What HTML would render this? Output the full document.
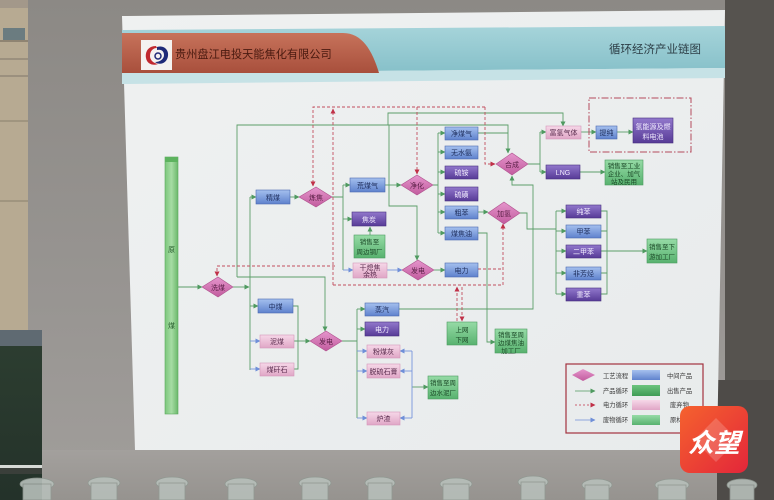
<!DOCTYPE html>
<html><head><meta charset="utf-8"><style>
html,body{margin:0;padding:0;width:774px;height:500px;overflow:hidden;background:#8b8985}
svg{display:block}
text{font-family:"Liberation Sans","Noto Sans CJK SC",sans-serif}
</style></head><body>
<svg width="774" height="500" viewBox="0 0 774 500" xmlns="http://www.w3.org/2000/svg">
<defs>
<linearGradient id="wall" x1="0" y1="0" x2="0" y2="1"><stop offset="0" stop-color="#8c8985"/><stop offset="0.6" stop-color="#989592"/><stop offset="1" stop-color="#a19e9b"/></linearGradient>
<linearGradient id="shelf" x1="0" y1="0" x2="0" y2="1"><stop offset="0" stop-color="#a3a09d"/><stop offset="1" stop-color="#96938f"/></linearGradient>
<linearGradient id="poster" x1="0" y1="0" x2="1" y2="1"><stop offset="0" stop-color="#eff1f1"/><stop offset="1" stop-color="#e8ebec"/></linearGradient>
<linearGradient id="red" x1="0" y1="0" x2="0" y2="1"><stop offset="0" stop-color="#c7735b"/><stop offset="1" stop-color="#a84f3c"/></linearGradient>
<linearGradient id="teal" x1="0" y1="0" x2="0" y2="1"><stop offset="0" stop-color="#a6d4da"/><stop offset="1" stop-color="#86c0c9"/></linearGradient>
<linearGradient id="gb" x1="0" y1="0" x2="0" y2="1"><stop offset="0" stop-color="#a5c0ee"/><stop offset="1" stop-color="#5f82cd"/></linearGradient>
<linearGradient id="gp" x1="0" y1="0" x2="0" y2="1"><stop offset="0" stop-color="#9278cc"/><stop offset="1" stop-color="#573b97"/></linearGradient>
<linearGradient id="gk" x1="0" y1="0" x2="0" y2="1"><stop offset="0" stop-color="#f6d8e8"/><stop offset="1" stop-color="#e0a6c6"/></linearGradient>
<linearGradient id="gg" x1="0" y1="0" x2="0" y2="1"><stop offset="0" stop-color="#96dba6"/><stop offset="1" stop-color="#58b26f"/></linearGradient>
<linearGradient id="gg2" x1="0" y1="0" x2="0" y2="1"><stop offset="0" stop-color="#6cc47e"/><stop offset="1" stop-color="#3f9c55"/></linearGradient>
<linearGradient id="gd" x1="0" y1="0" x2="0" y2="1"><stop offset="0" stop-color="#e595cc"/><stop offset="1" stop-color="#c25c9e"/></linearGradient>
<linearGradient id="bar" x1="0" y1="0" x2="1" y2="0"><stop offset="0" stop-color="#7cc77c"/><stop offset="0.5" stop-color="#a6dca4"/><stop offset="1" stop-color="#6bb86b"/></linearGradient>
<linearGradient id="wm" x1="0" y1="0" x2="1" y2="1"><stop offset="0" stop-color="#f5622e"/><stop offset="1" stop-color="#e3263a"/></linearGradient>
<linearGradient id="dg" x1="0" y1="0" x2="0" y2="1"><stop offset="0" stop-color="#2c3d30"/><stop offset="1" stop-color="#24322a"/></linearGradient>
<marker id="ag" markerWidth="5" markerHeight="5" refX="4.5" refY="2.5" orient="auto" markerUnits="userSpaceOnUse"><path d="M0,0 L5,2.5 L0,5 Z" fill="#4f9a60"/></marker>
<marker id="ar" markerWidth="5" markerHeight="5" refX="4.5" refY="2.5" orient="auto" markerUnits="userSpaceOnUse"><path d="M0,0 L5,2.5 L0,5 Z" fill="#c03048"/></marker>
<marker id="ab" markerWidth="5" markerHeight="5" refX="4.5" refY="2.5" orient="auto" markerUnits="userSpaceOnUse"><path d="M0,0 L5,2.5 L0,5 Z" fill="#6f8fd8"/></marker>
</defs>

<!-- background -->
<rect x="0" y="0" width="774" height="500" fill="url(#wall)"/>
<rect x="0" y="0" width="28" height="330" fill="#b7aa92"/>
<rect x="0" y="0" width="28" height="8" fill="#a3988a"/>
<rect x="3" y="28" width="22" height="12" fill="#6b7c80"/>
<rect x="0" y="40" width="28" height="2" fill="#8f8472"/>
<rect x="0" y="58" width="28" height="2" fill="#9b907e"/>
<rect x="0" y="75" width="28" height="2" fill="#9b907e"/>
<rect x="0" y="120" width="28" height="2" fill="#a0957f"/>
<rect x="0" y="200" width="28" height="2" fill="#a0957f"/>
<rect x="0" y="330" width="42" height="16" fill="#5f6a72"/>
<rect x="0" y="346" width="42" height="154" fill="url(#dg)"/>
<rect x="0" y="465" width="44" height="3" fill="#d6dad6"/>
<rect x="0" y="468" width="44" height="6" fill="#3a3f3a"/>
<rect x="725" y="0" width="49" height="500" fill="#56534f"/>
<rect x="42" y="450" width="683" height="50" fill="url(#shelf)"/>
<rect x="717" y="380" width="57" height="120" fill="#4e4b48"/>

<!-- bottles -->
<g fill="#b7bfba" stroke="#8f9891" stroke-width="0.8" opacity="0.9">
<ellipse cx="37" cy="484" rx="17" ry="6"/><rect x="23" y="484" width="28" height="16"/>
<ellipse cx="104" cy="483" rx="16" ry="6"/><rect x="91" y="483" width="26" height="17"/>
<ellipse cx="172" cy="483" rx="16" ry="6"/><rect x="159" y="483" width="26" height="17"/>
<ellipse cx="241" cy="484" rx="16" ry="6"/><rect x="228" y="484" width="26" height="16"/>
<ellipse cx="315" cy="483" rx="16" ry="6"/><rect x="302" y="483" width="26" height="17"/>
<ellipse cx="380" cy="483" rx="15" ry="6"/><rect x="368" y="483" width="24" height="17"/>
<ellipse cx="456" cy="484" rx="16" ry="6"/><rect x="443" y="484" width="26" height="16"/>
<ellipse cx="533" cy="482" rx="15" ry="6"/><rect x="521" y="482" width="24" height="18"/>
<ellipse cx="597" cy="485" rx="15" ry="6"/><rect x="585" y="485" width="24" height="15"/>
<ellipse cx="672" cy="485" rx="17" ry="6"/><rect x="658" y="485" width="28" height="15"/>
<ellipse cx="742" cy="485" rx="15" ry="6"/><rect x="730" y="485" width="24" height="15"/>
</g>

<!-- poster -->
<polygon points="122,16 725,10 717,450 135,450" fill="url(#poster)"/>
<!-- header -->
<polygon points="122,30 725,26 725,68 122,73" fill="url(#teal)"/>
<polygon points="122,73 725,68 725,78 122,84" fill="#c6e2e6"/>
<path d="M122,33 H343 C362,33 372,50 379,73 H122 Z" fill="url(#red)"/>
<rect x="141" y="40" width="31" height="30" fill="#f4f2f0"/>
<path d="M156,46 C148,46 145,52 146,58 C147,64 153,66 158,64 C153,63 150,60 150,56 C150,51 153,48 157,48 Z" fill="#c0282e"/>
<path d="M157,47 C164,45 169,50 168,56 C167,63 160,66 155,62 C160,62 164,59 164,55 C164,51 161,49 157,50 Z" fill="#1e2a78"/>
<circle cx="158" cy="56" r="3" fill="none" stroke="#1e2a78" stroke-width="1.5"/>
<text x="175" y="58" font-size="11.2" fill="#4a1a10">贵州盘江电投天能焦化有限公司</text>
<text x="609" y="53" font-size="11.5" fill="#2d3f47">循环经济产业链图</text>

<!-- lines green -->
<g fill="none" stroke="#5c9e69" stroke-width="0.9">
<path d="M178,287 H202" marker-end="url(#ag)"/>
<path d="M233,287 H249" marker-end="url(#ag)"/>
<path d="M250,197 V370"/>
<path d="M250,197 H256" marker-end="url(#ag)"/>
<path d="M250,306 H258" marker-end="url(#ag)"/>
<path d="M290,197 H299" marker-end="url(#ag)"/>
<path d="M332,197 H343 M343,185 V270"/>
<path d="M343,185 H350" marker-end="url(#ag)"/>
<path d="M343,219 H352" marker-end="url(#ag)"/>
<path d="M385,185 H401" marker-end="url(#ag)"/>
<path d="M370,235 V227" marker-end="url(#ag)"/>
<path d="M434,270 H445" marker-end="url(#ag)"/>
<path d="M433,185 H438 M438,133 V233"/>
<path d="M438,133 H445" marker-end="url(#ag)"/>
<path d="M438,152 H445" marker-end="url(#ag)"/>
<path d="M438,172 H445" marker-end="url(#ag)"/>
<path d="M438,194 H445" marker-end="url(#ag)"/>
<path d="M438,212 H445" marker-end="url(#ag)"/>
<path d="M438,233 H445" marker-end="url(#ag)"/>
<path d="M478,212 H488" marker-end="url(#ag)"/>
<path d="M520,213 H527 V229 H556 M556,211 V294"/>
<path d="M556,211 H566" marker-end="url(#ag)"/>
<path d="M556,231 H566" marker-end="url(#ag)"/>
<path d="M556,251 H566" marker-end="url(#ag)"/>
<path d="M556,273 H566" marker-end="url(#ag)"/>
<path d="M556,294 H566" marker-end="url(#ag)"/>
<path d="M601,211 H607 V294 H601 M601,231 H607 M601,273 H607"/>
<path d="M601,251 H647" marker-end="url(#ag)"/>
<path d="M528,164 H540 M540,132 V172"/>
<path d="M540,132 H546" marker-end="url(#ag)"/>
<path d="M540,172 H546" marker-end="url(#ag)"/>
<path d="M581,132 H596" marker-end="url(#ag)"/>
<path d="M617,132 H633" marker-end="url(#ag)"/>
<path d="M580,172 H605" marker-end="url(#ag)"/>
<path d="M478,133 H508"/>
<path d="M237,277 V125 H508 V153" marker-end="url(#ag)"/>
<path d="M388,125 V113 H563 V126" marker-end="url(#ag)"/>
<path d="M389,125 V206 H417 V260" marker-end="url(#ag)"/>
<path d="M478,233 H487 V342 H495" marker-end="url(#ag)"/>
<path d="M399,309 H533 V185 H512 V176" marker-end="url(#ag)"/>
<path d="M237,277 H325 V331" marker-end="url(#ag)"/>
<path d="M342,341 H357 M357,309 V418"/>
<path d="M357,309 H365" marker-end="url(#ag)"/>
<path d="M357,329 H365" marker-end="url(#ag)"/>
<path d="M293,306 H298 V369 H294 M294,341 H298"/>
<path d="M298,341 H310" marker-end="url(#ag)"/>
<path d="M412,387 H428" marker-end="url(#ag)"/>
</g>
<!-- lines blue -->
<g fill="none" stroke="#7795dc" stroke-width="0.9">
<path d="M250,341 H260" marker-end="url(#ab)"/>
<path d="M250,369 H260" marker-end="url(#ab)"/>
<path d="M343,270 H353" marker-end="url(#ab)"/>
<path d="M387,270 H402" marker-end="url(#ab)"/>
<path d="M357,351 H367" marker-end="url(#ab)"/>
<path d="M357,371 H367" marker-end="url(#ab)"/>
<path d="M357,418 H367" marker-end="url(#ab)"/>
<path d="M412,351 V418"/>
<path d="M412,351 H400" marker-end="url(#ab)"/>
<path d="M412,371 H400" marker-end="url(#ab)"/>
<path d="M412,418 H400" marker-end="url(#ab)"/>
</g>
<!-- lines red dashed -->
<g fill="none" stroke="#c24e5e" stroke-width="0.9" stroke-dasharray="3,2">
<path d="M485,107 H313 V186" marker-end="url(#ar)"/>
<path d="M485,107 V164 H495" marker-end="url(#ar)"/>
<path d="M417,107 V174" marker-end="url(#ar)"/>
<path d="M333,285 V109" marker-end="url(#ar)"/>
<path d="M335,266 H217 V276" marker-end="url(#ar)"/>
<path d="M333,285 H503 V224" marker-end="url(#ar)"/>
<path d="M478,269 H503"/>
<path d="M457,321 V287" marker-end="url(#ar)"/>
<path d="M462,287 V321" marker-end="url(#ar)"/>
</g>
<!-- dash-dot box -->
<rect x="589" y="98" width="102" height="54" fill="none" stroke="#b44a5c" stroke-width="1" stroke-dasharray="7,2,1.5,2"/>

<!-- raw coal bar -->
<rect x="165" y="157" width="13" height="257" fill="url(#bar)" stroke="#5aa85c" stroke-width="0.6"/>
<rect x="165" y="157" width="13" height="5" fill="#5db35f"/>
<text x="171.5" y="252" font-size="7" fill="#245a2a" text-anchor="middle">原</text>
<text x="171.5" y="328" font-size="7" fill="#245a2a" text-anchor="middle">煤</text>

<!-- boxes -->
<g stroke-width="0.6" font-size="7" text-anchor="middle">
<g fill="url(#gb)" stroke="#4b69b0">
<rect x="256" y="190" width="34" height="14"/>
<rect x="350" y="178" width="35" height="14"/>
<rect x="445" y="263" width="33" height="14"/>
<rect x="445" y="127" width="33" height="13"/>
<rect x="445" y="146" width="33" height="13"/>
<rect x="445" y="206" width="33" height="13"/>
<rect x="445" y="227" width="33" height="13"/>
<rect x="596" y="126" width="21" height="13"/>
<rect x="566" y="225" width="35" height="13"/>
<rect x="566" y="267" width="35" height="13"/>
<rect x="258" y="299" width="35" height="14"/>
<rect x="365" y="303" width="34" height="13"/>
</g>
<g fill="url(#gp)" stroke="#47307f">
<rect x="352" y="212" width="34" height="14"/>
<rect x="445" y="166" width="33" height="13"/>
<rect x="445" y="187" width="33" height="14"/>
<rect x="546" y="165" width="34" height="14"/>
<rect x="633" y="118" width="40" height="25"/>
<rect x="566" y="205" width="35" height="13"/>
<rect x="566" y="245" width="35" height="13"/>
<rect x="566" y="288" width="35" height="13"/>
<rect x="365" y="322" width="34" height="14"/>
</g>
<g fill="url(#gk)" stroke="#d497b9">
<rect x="353" y="263" width="34" height="15"/>
<rect x="546" y="126" width="35" height="13"/>
<rect x="260" y="335" width="34" height="13"/>
<rect x="260" y="363" width="34" height="13"/>
<rect x="367" y="345" width="33" height="13"/>
<rect x="367" y="364" width="33" height="14"/>
<rect x="367" y="412" width="33" height="13"/>
</g>
<g fill="url(#gg)" stroke="#4c9c60">
<rect x="354" y="235" width="31" height="23"/>
<rect x="605" y="160" width="38" height="25"/>
<rect x="647" y="239" width="30" height="24"/>
<rect x="428" y="376" width="30" height="23"/>
<rect x="447" y="322" width="30" height="23"/>
<rect x="495" y="329" width="32" height="24"/>
</g>
<g fill="url(#gd)" stroke="#b0528e">
<polygon points="299,197 316,187 332,197 316,207"/>
<polygon points="401,185 417,175 433,185 417,195"/>
<polygon points="402,270 418,260 434,270 418,280"/>
<polygon points="202,287 218,277 233,287 218,297"/>
<polygon points="496,164 512,153 528,164 512,175"/>
<polygon points="488,213 504,202 520,213 504,224"/>
<polygon points="310,341 326,331 342,341 326,351"/>
</g>
<g stroke="none">
<g fill="#1f2f5e">
<text x="273" y="200">精煤</text>
<text x="367.5" y="188">荒煤气</text>
<text x="461.5" y="273">电力</text>
<text x="461.5" y="136">净煤气</text>
<text x="461.5" y="155">无水氨</text>
<text x="461.5" y="215">粗苯</text>
<text x="461.5" y="236">煤焦油</text>
<text x="606.5" y="135">提纯</text>
<text x="583.5" y="234">甲苯</text>
<text x="583.5" y="276">非芳烃</text>
<text x="275.5" y="309">中煤</text>
<text x="382" y="312">蒸汽</text>
</g>
<g fill="#f2ecff">
<text x="369" y="222">焦炭</text>
<text x="461.5" y="175">硫铵</text>
<text x="461.5" y="197">硫磺</text>
<text x="563" y="175">LNG</text>
<text x="653" y="129">氢能源及燃</text>
<text x="653" y="139">料电池</text>
<text x="583.5" y="214">纯苯</text>
<text x="583.5" y="254">二甲苯</text>
<text x="583.5" y="297">重苯</text>
<text x="382" y="332">电力</text>
</g>
<g fill="#5a2c4e">
<text x="370" y="270">干熄焦</text>
<text x="370" y="277">余热</text>
<text x="563.5" y="135">富氢气体</text>
<text x="277" y="344">泥煤</text>
<text x="277" y="372">煤矸石</text>
<text x="383.5" y="354">粉煤灰</text>
<text x="383.5" y="374">脱硫石膏</text>
<text x="383.5" y="421">炉渣</text>
</g>
<g fill="#1c4a28" font-size="6.5">
<text x="369.5" y="244">销售至</text>
<text x="369.5" y="254">周边钢厂</text>
<text x="624" y="168">销售至工业</text>
<text x="624" y="176">企业、加气</text>
<text x="624" y="184">站及民用</text>
<text x="662" y="249">销售至下</text>
<text x="662" y="259">游加工厂</text>
<text x="443" y="385">销售至周</text>
<text x="443" y="395">边水泥厂</text>
<text x="462" y="332">上网</text>
<text x="462" y="342">下网</text>
<text x="511" y="337">销售至周</text>
<text x="511" y="345">边煤焦油</text>
<text x="511" y="353">加工厂</text>
</g>
<g fill="#5a1f46">
<text x="316" y="200">炼焦</text>
<text x="417" y="188">净化</text>
<text x="418" y="273">发电</text>
<text x="218" y="290">洗煤</text>
<text x="512" y="167">合成</text>
<text x="504" y="216">加氢</text>
<text x="326" y="344">发电</text>
</g>
</g>
</g>

<!-- legend -->
<rect x="566" y="364" width="137" height="69" fill="none" stroke="#a3323f" stroke-width="1.2"/>
<polygon points="572,375 583,369 595,375 583,381" fill="url(#gd)"/>
<path d="M575,391 H595" stroke="#4f9a60" stroke-width="0.8" marker-end="url(#ag)"/>
<path d="M575,405 H595" stroke="#c03048" stroke-width="0.8" stroke-dasharray="2,2" marker-end="url(#ar)"/>
<path d="M575,420 H595" stroke="#6f8fd8" stroke-width="0.8" marker-end="url(#ab)"/>
<g font-size="6.3" fill="#3a3a3a">
<text x="603" y="378">工艺流程</text>
<text x="603" y="393">产品循环</text>
<text x="603" y="407">电力循环</text>
<text x="603" y="422">废物循环</text>
<text x="667" y="378">中间产品</text>
<text x="667" y="393">出售产品</text>
<text x="670" y="407">废弃物</text>
<text x="670" y="422">原材料</text>
</g>
<rect x="632" y="370" width="28" height="10" fill="url(#gb)"/>
<rect x="632" y="385" width="28" height="11" fill="url(#gg2)"/>
<rect x="632" y="400" width="28" height="10" fill="url(#gk)"/>
<rect x="632" y="415" width="28" height="10" fill="url(#gg)"/>

<!-- watermark -->
<rect x="680" y="406" width="68" height="67" rx="10" fill="url(#wm)"/>
<polygon points="716,418 738,440 716,462 694,440" fill="#ffffff" opacity="0.18"/>
<text x="714" y="452" font-size="26" fill="#ffffff" text-anchor="middle" font-style="italic" font-weight="bold" font-family="'Liberation Sans','Noto Sans CJK SC',sans-serif">众望</text>
</svg>
</body></html>
